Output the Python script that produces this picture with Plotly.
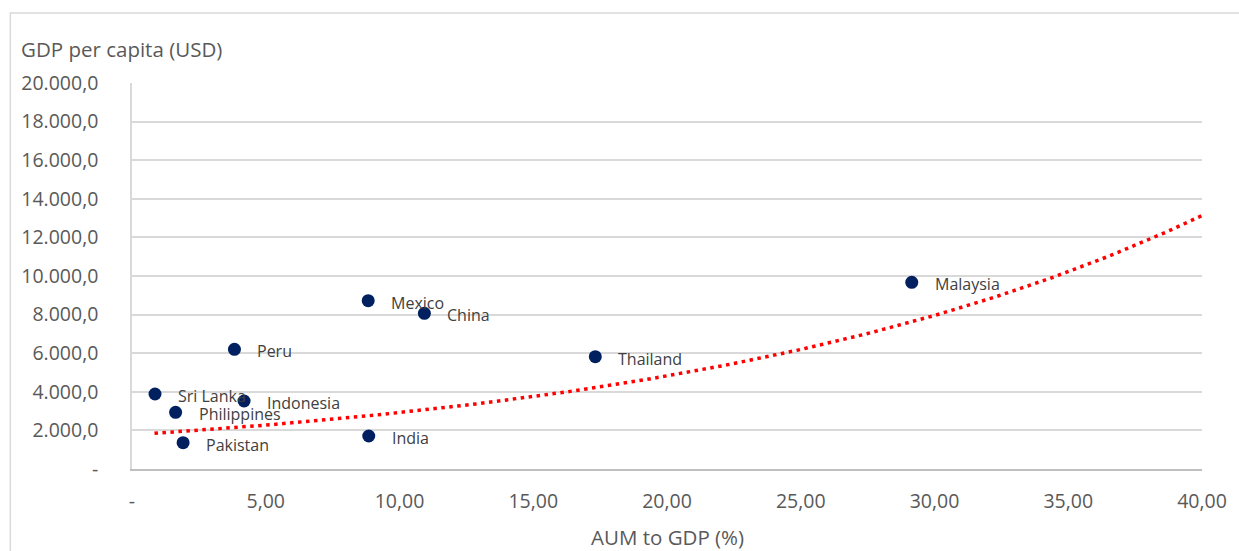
import numpy as np
import plotly.graph_objects as go

# ---- data ----
countries = ["Sri Lanka", "Philippines", "Pakistan", "Peru", "Indonesia",
             "Mexico", "India", "China", "Thailand", "Malaysia"]
aum_to_gdp = [0.86, 1.63, 1.91, 3.83, 4.19, 8.83, 8.85, 10.93, 17.32, 29.15]
gdp_per_capita = [3886, 2937, 1364, 6202, 3523, 8720, 1710, 8067, 5819, 9672]

x_ticks = [0, 5, 10, 15, 20, 25, 30, 35, 40]
x_ticktext = ["-", "5,00", "10,00", "15,00", "20,00", "25,00", "30,00", "35,00", "40,00"]
y_ticks = [0, 2000, 4000, 6000, 8000, 10000, 12000, 14000, 16000, 18000, 20000]
y_ticktext = ["-", "2.000,0", "4.000,0", "6.000,0", "8.000,0", "10.000,0",
              "12.000,0", "14.000,0", "16.000,0", "18.000,0", "20.000,0"]

# exponential trendline y = a * exp(b * x), coefficients,
# drawn from the smallest AUM value forward to 40
trend_a = 1770
trend_b = 0.0501
trend_start = 0.84
trend_end = 40

tx = np.linspace(trend_start, trend_end, 200)
ty = trend_a * np.exp(trend_b * tx)

FONT = "Open Sans"
GREY = "#595959"

fig = go.Figure()
fig.add_trace(go.Scatter(
    x=tx, y=ty, mode="lines",
    line=dict(color="#FF0000", width=3.5, dash="3.5px,4.5px"),
    hoverinfo="skip", showlegend=False))
fig.add_trace(go.Scatter(
    x=aum_to_gdp, y=gdp_per_capita, mode="markers",
    marker=dict(color="#002060", size=13),
    text=countries, showlegend=False))

for c, x, y in zip(countries, aum_to_gdp, gdp_per_capita):
    fig.add_annotation(x=x, y=y, text=c, showarrow=False, xanchor="left",
                       yanchor="middle", xshift=21, yshift=-2,
                       font=dict(family=FONT, size=16, color="#404040"))

L, R, T, B = 132, 1239 - 1205, 83, 551 - 469
pw, ph = 1239 - L - R, 551 - T - B

fig.add_annotation(xref="paper", yref="paper", x=0, y=1, xanchor="left",
                   yanchor="middle", xshift=19 - L, yshift=34,
                   text="GDP per capita (USD)", showarrow=False,
                   font=dict(family=FONT, size=20.5, color=GREY))
fig.add_annotation(xref="paper", yref="paper", x=0.5, y=0, xanchor="center",
                   yanchor="middle", yshift=-68,
                   text="AUM to GDP (%)", showarrow=False,
                   font=dict(family=FONT, size=20.5, color=GREY))

# outer chart border
fig.add_shape(type="rect", xref="paper", yref="paper",
              x0=(10 - L) / pw, x1=(1250 - L) / pw,
              y0=-(560 - 469) / ph, y1=(469 - 13) / ph,
              line=dict(color="#d9d9d9", width=1.5), fillcolor="rgba(0,0,0,0)",
              layer="below")

fig.update_layout(
    width=1239, height=551,
    margin=dict(l=L, r=R, t=T, b=B),
    plot_bgcolor="white", paper_bgcolor="white",
    font=dict(family=FONT, color=GREY),
    xaxis=dict(range=[0, 40], tickvals=x_ticks, ticktext=x_ticktext,
               showgrid=False, zeroline=False,
               showline=True, linecolor="#bfbfbf", linewidth=1.5,
               ticks="", ticklabelstandoff=14,
               tickfont=dict(family=FONT, size=19.5, color=GREY)),
    yaxis=dict(range=[0, 20000], tickvals=y_ticks, ticktext=y_ticktext,
               showgrid=True, gridcolor="#d9d9d9", gridwidth=1.5,
               zeroline=False,
               showline=True, linecolor="#d9d9d9", linewidth=1.5,
               ticks="", ticklabelstandoff=28,
               tickfont=dict(family=FONT, size=19.5, color=GREY)),
)

fig.write_html("out.html")
